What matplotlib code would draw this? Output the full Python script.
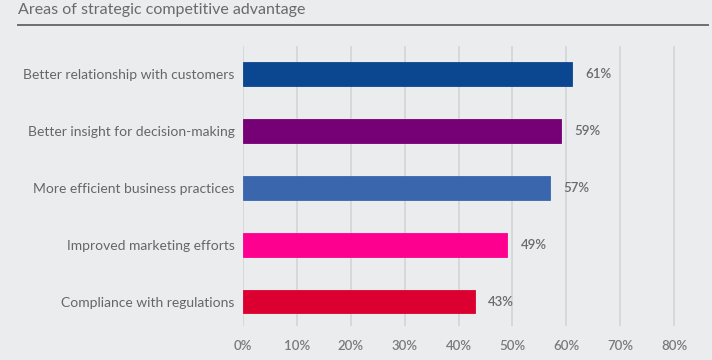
import matplotlib
matplotlib.use("Agg")
import matplotlib.pyplot as plt
from matplotlib.lines import Line2D

categories = ["Better relationship with customers",
              "Better insight for decision-making",
              "More efficient business practices",
              "Improved marketing efforts",
              "Compliance with regulations"]
values = [61, 59, 57, 49, 43]
colors = ["#0b4690", "#760075", "#3a66ae", "#fe0090", "#dc0031"]
xticks = [0, 10, 20, 30, 40, 50, 60, 70, 80]
xticklabels = ["0%", "10%", "20%", "30%", "40%", "50%", "60%", "70%", "80%"]
title = "Areas of strategic competitive advantage"

bg = "#ebecee"
plt.rcParams['font.family'] = ['Lato', 'DejaVu Sans']

fig = plt.figure(figsize=(7.12, 3.6), dpi=100, facecolor=bg)
W, H = 712, 360
left, right = 243, 685
top, bottom = 46, 326
ax = fig.add_axes([left / W, 1 - bottom / H, (right - left) / W, (bottom - top) / H])
ax.set_facecolor(bg)

ypos = list(range(len(categories)))
ax.barh(ypos, values, height=0.42, color=colors, edgecolor=colors, linewidth=0.6, zorder=3)
ax.set_ylim(4.43, -0.49)
ax.set_xlim(0, 80 * (right - left) / (674 - left))

for y, v in zip(ypos, values):
    ax.text(v + 2.5, y, f"{v}%", va="center", ha="left", fontsize=9.5,
            color="#6b6b6b", fontweight="semibold")

ax.set_xticks(xticks)
ax.set_xticklabels(xticklabels, fontsize=9.5, color="#7a7a7a", fontweight="semibold")
ax.set_yticks(ypos)
ax.set_yticklabels(categories, fontsize=10, color="#666666")
ax.tick_params(axis="x", length=0, pad=10)
ax.tick_params(axis="y", length=0, pad=6)
ax.grid(axis="x", color="#d3d4d7", linewidth=1.2, zorder=0)
for s in ax.spines.values():
    s.set_visible(False)

fig.text(18 / W, 1 - 10 / H, title, fontsize=11.5, color="#6a6a6a", va="center", ha="left")
fig.add_artist(Line2D([18 / W, 708 / W], [1 - 24.5 / H, 1 - 24.5 / H],
                      color="#6e6e6e", linewidth=1.4, transform=fig.transFigure))

fig.savefig("out.png", dpi=100, facecolor=bg)
